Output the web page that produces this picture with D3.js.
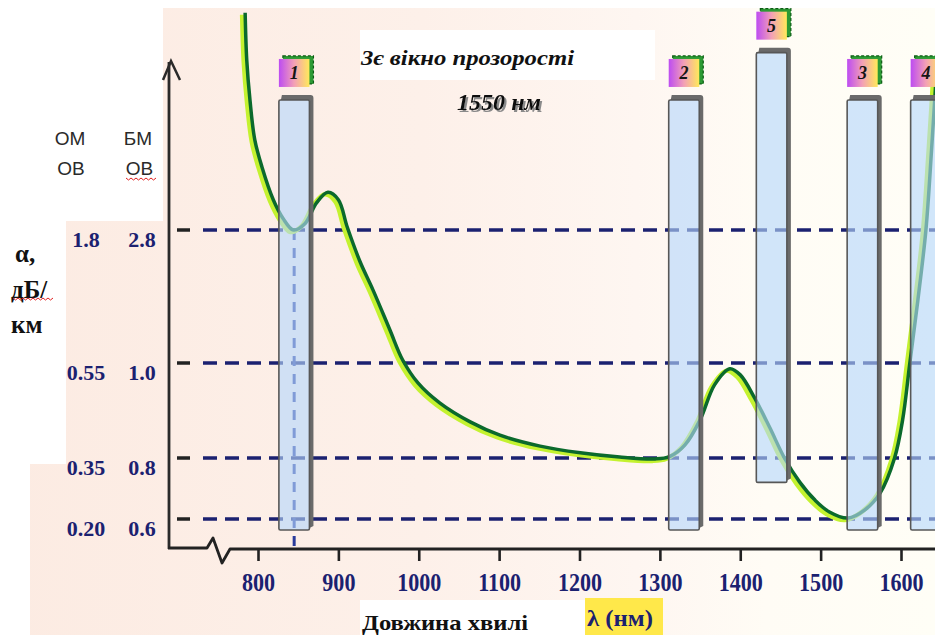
<!DOCTYPE html>
<html><head><meta charset="utf-8">
<script src="https://cdn.jsdelivr.net/npm/d3@7"></script>
<style>body{margin:0;background:#fff;} svg{display:block}</style>
</head><body>
<svg id="chart" width="935" height="635"></svg>
<script>
// ---------------- data ----------------
const wavelengthTicks = [800, 900, 1000, 1100, 1200, 1300, 1400, 1500, 1600];
const levelsMM = [0.6, 0.8, 1.0, 2.8];                 // БМ ОВ, dB/km
const levelLabelsMM = ["0.6", "0.8", "1.0", "2.8"];
const levelLabelsSM = ["0.20", "0.35", "0.55", "1.8"]; // ОМ ОВ, dB/km
const curveWavelength = [784, 786, 790, 796, 805, 819, 831, 844, 858, 873, 887, 900, 911, 927, 943, 964, 980,
  999, 1026, 1064, 1101, 1151, 1201, 1250, 1294, 1312, 1331, 1350, 1368, 1387, 1400, 1418, 1437, 1455, 1474, 1493,
  1511, 1534, 1555, 1574, 1592, 1602, 1611, 1621, 1631, 1638, 1645];
const curveAttenuation = [5.74, 5.10, 4.56, 4.02, 3.65, 3.21, 2.96, 2.80, 2.88, 3.17, 3.31, 3.21, 2.84, 2.37, 1.99, 1.45, 1.04,
  0.958, 0.916, 0.876, 0.848, 0.825, 0.811, 0.802, 0.797, 0.803, 0.827, 0.880, 0.954, 0.988, 0.975, 0.926, 0.863, 0.800, 0.721, 0.662,
  0.623, 0.603, 0.630, 0.685, 0.800, 0.880, 1.000, 1.85, 2.80, 3.88, 5.10];
const windowNames = ["1", "2", "5", "3", "4"];
const windowFrom = [826, 1311, 1420, 1533, 1612];
const windowTo = [864, 1349, 1458, 1571, 1650];
const windowTop = [4.56, 4.56, 5.2, 4.56, 4.56];
const windowBottom = [0.564, 0.564, 0.72, 0.564, 0.564];
const markedWavelength = 845;
const titleLine1 = "3є вікно прозорості";
const titleLine2 = "1550  нм";
const xTitle = "Довжина хвилі";
const xUnit = "λ (нм)";

// ---------------- layout ----------------
const svg = d3.select("#chart");
const W = 935, H = 635;
const axisY = 548, axisX = 169;
const x = d3.scaleLinear().domain([800, 1600]).range([258, 901]);
const y = d3.scaleLinear().domain(levelsMM).range([519, 458, 363, 230]);
const navy = "#1b2170";
const serif = "'Liberation Serif','Times New Roman',serif";
const sans = "'Liberation Sans',Arial,sans-serif";

const defs = svg.append("defs");
const bg = defs.append("linearGradient").attr("id", "bg").attr("gradientUnits", "userSpaceOnUse")
  .attr("x1", 0).attr("x2", W).attr("y1", 0).attr("y2", 0);
[[0, "#fcebe2"], [0.45, "#fdf0e9"], [0.68, "#fef6f1"], [0.82, "#fffcf5"], [1, "#fffef6"]]
  .forEach(s => bg.append("stop").attr("offset", s[0]).attr("stop-color", s[1]));
const lg = defs.append("linearGradient").attr("id", "lbl").attr("x1", 0).attr("x2", 1).attr("y1", 0).attr("y2", 0);
[[0, "#bd4cf2"], [0.5, "#f3a0b6"], [1, "#ffe95a"]]
  .forEach(s => lg.append("stop").attr("offset", s[0]).attr("stop-color", s[1]));
const pl = defs.append("linearGradient").attr("id", "pl").attr("x1", 0).attr("x2", 1);
[[0, "#d06ae6"], [0.6, "#f0a0c0"], [1, "#ffd0a0"]]
  .forEach(s => pl.append("stop").attr("offset", s[0]).attr("stop-color", s[1]));
defs.append("filter").attr("id", "sh").attr("x", "-10%").attr("y", "-30%").attr("width", "130%").attr("height", "160%")
  .append("feDropShadow").attr("dx", 2).attr("dy", 2).attr("stdDeviation", 0.6).attr("flood-color", "#8a8a8a");

// background
svg.append("rect").attr("width", W).attr("height", H).attr("fill", "#fff");
svg.append("path").attr("fill", "url(#bg)")
  .attr("d", "M163,8 L935,8 L935,635 L30,635 L30,464 L66,464 L66,221 L163,221 Z");
svg.append("rect").attr("x", 360).attr("y", 30).attr("width", 295).attr("height", 50).attr("fill", "#fff");
svg.append("rect").attr("x", 360).attr("y", 600).attr("width", 225).attr("height", 35).attr("fill", "#fff");
svg.append("rect").attr("x", 585).attr("y", 598).attr("width", 78).attr("height", 37).attr("fill", "#ffe84a");
svg.append("line").attr("x1", 433).attr("x2", 585).attr("y1", 599).attr("y2", 599)
  .attr("stroke", "url(#pl)").attr("stroke-width", 2);

// horizontal dashed levels
const lv = svg.append("g");
levelsMM.forEach((v, i) => {
  lv.append("line").attr("x1", 177).attr("x2", 190).attr("y1", y(v)).attr("y2", y(v))
    .attr("stroke", "#222").attr("stroke-width", 3.5);
  lv.append("line").attr("x1", 203).attr("x2", W).attr("y1", y(v)).attr("y2", y(v))
    .attr("stroke", navy).attr("stroke-width", 3.5).attr("stroke-dasharray", "14,8");
  svg.append("text").attr("x", 86).attr("y", y(v) + 17).attr("text-anchor", "middle")
    .attr("font-family", serif).attr("font-weight", "bold").attr("font-size", 22).attr("fill", navy)
    .text(levelLabelsSM[i]);
  svg.append("text").attr("x", 142).attr("y", y(v) + 17).attr("text-anchor", "middle")
    .attr("font-family", serif).attr("font-weight", "bold").attr("font-size", 22).attr("fill", navy)
    .text(levelLabelsMM[i]);
});

// vertical dashed marker
svg.append("line").attr("x1", x(markedWavelength)).attr("x2", x(markedWavelength))
  .attr("y1", y(2.8)).attr("y2", axisY)
  .attr("stroke", "#2a3c9c").attr("stroke-width", 3).attr("stroke-dasharray", "10,8");

// curve
const pts = curveWavelength.map((w, i) => [w, curveAttenuation[i]]);
const line = d3.line().x(d => x(d[0])).y(d => y(d[1])).curve(d3.curveCatmullRom.alpha(0.5));
svg.append("path").attr("d", line(pts)).attr("fill", "none").attr("stroke", "#c4f230")
  .attr("stroke-width", 4.5).attr("transform", "translate(-3,2)");
svg.append("path").attr("d", line(pts)).attr("fill", "none").attr("stroke", "#0b6a2c")
  .attr("stroke-width", 3.5);

// windows
windowNames.forEach((n, i) => {
  const x0 = x(windowFrom[i]), x1 = x(windowTo[i]);
  const yt = y(windowTop[i]), yb = y(windowBottom[i]);
  const w = x1 - x0;
  const g = svg.append("g");
  g.append("path").attr("fill", "#6a6a6a")
    .attr("d", `M${x0 + 2},${yt} L${x0 + 3},${yt - 5} L${x1 + 1},${yt - 5} Q${x1 + 4},${yt - 5} ${x1 + 4},${yt - 2} L${x1 + 4},${yb - 4} L${x1},${yb - 2} L${x1},${yt} Z`);
  g.append("rect").attr("x", x0).attr("y", yt).attr("width", w).attr("height", yb - yt)
    .attr("rx", 1.5).attr("fill", "#b4d6fb").attr("fill-opacity", 0.62)
    .attr("stroke", "#575757").attr("stroke-width", 1.6);
  // label
  const ly = yt - 41;
  g.append("rect").attr("x", x0 + 4).attr("y", ly - 3).attr("width", w).attr("height", 28)
    .attr("fill", "#2c9a34").attr("stroke", "#0c5c14").attr("stroke-width", 1.2).attr("stroke-dasharray", "3,2");
  g.append("rect").attr("x", x0).attr("y", ly).attr("width", w).attr("height", 28).attr("fill", "url(#lbl)");
  g.append("text").attr("x", x0 + w / 2).attr("y", ly + 20).attr("text-anchor", "middle")
    .attr("font-family", serif).attr("font-style", "italic").attr("font-weight", "bold")
    .attr("font-size", 18).attr("fill", "#151515").text(n);
});

// axes
svg.append("line").attr("x1", axisX).attr("x2", axisX).attr("y1", 62).attr("y2", axisY + 1)
  .attr("stroke", "#2a2a2a").attr("stroke-width", 2.8);
svg.append("path").attr("d", "M163,80 L171,61 L180,80").attr("fill", "none")
  .attr("stroke", "#2a2a2a").attr("stroke-width", 2.5);
svg.append("path").attr("d", `M${axisX - 1},${axisY} L207,${axisY} L213,538 L222,563 L230,${axisY + 1} L${W},${axisY + 1}`)
  .attr("fill", "none").attr("stroke", "#222").attr("stroke-width", 2.8).attr("stroke-linejoin", "round");

const xa = svg.append("g").attr("transform", `translate(0,${axisY})`)
  .call(d3.axisBottom(x).tickValues(wavelengthTicks).tickSize(13).tickPadding(12).tickFormat(d3.format("d")));
xa.select(".domain").remove();
xa.selectAll(".tick line").attr("stroke", "#222").attr("stroke-width", 2.6);
xa.selectAll(".tick text").attr("font-family", serif).attr("font-weight", "bold").attr("font-size", 26)
  .attr("fill", navy).attr("transform", "scale(0.85,1)");

// left header labels
[["ОМ", 70, 145], ["ОВ", 71, 175], ["БМ", 138, 145], ["ОВ", 139.5, 175]].forEach(t => {
  svg.append("text").attr("x", t[1]).attr("y", t[2]).attr("text-anchor", "middle")
    .attr("font-family", sans).attr("font-size", 19).attr("fill", "#2a2a2a").text(t[0]);
});
[["α,", 15, 262], ["дБ/", 11, 298], ["км", 11, 333]].forEach(t => {
  svg.append("text").attr("x", t[1]).attr("y", t[2])
    .attr("font-family", serif).attr("font-weight", "bold").attr("font-size", 25).attr("fill", "#111").text(t[0]);
});
function wavy(x0, x1, yy) {
  let d = `M${x0},${yy}`;
  for (let xx = x0, k = 0; xx < x1; xx += 2.5, k++) d += ` L${xx + 2.5},${yy + (k % 2 ? 0 : 2)}`;
  svg.append("path").attr("d", d).attr("fill", "none").attr("stroke", "#e02020").attr("stroke-width", 1);
}
wavy(126, 155, 178);
wavy(13, 53, 298);

// titles
const tt = svg.append("g");
tt.append("text").attr("x", 361).attr("y", 65).attr("textLength", 213).attr("lengthAdjust", "spacingAndGlyphs")
  .attr("font-family", serif).attr("font-style", "italic").attr("font-weight", "bold").attr("font-size", 21)
  .attr("fill", "#111").text(titleLine1);
tt.append("text").attr("x", 457).attr("y", 110).attr("textLength", 84).attr("lengthAdjust", "spacingAndGlyphs")
  .attr("font-family", serif).attr("font-style", "italic").attr("font-weight", "bold").attr("font-size", 24)
  .attr("fill", "#111").attr("filter", "url(#sh)").text(titleLine2);

svg.append("text").attr("x", 362).attr("y", 630).attr("textLength", 166).attr("lengthAdjust", "spacingAndGlyphs")
  .attr("font-family", serif).attr("font-weight", "bold").attr("font-size", 21).attr("fill", "#111").text(xTitle);
svg.append("text").attr("x", 587).attr("y", 626).attr("textLength", 66).attr("lengthAdjust", "spacingAndGlyphs")
  .attr("font-family", serif).attr("font-weight", "bold").attr("font-size", 23).attr("fill", navy).text(xUnit);
</script>
</body></html>
